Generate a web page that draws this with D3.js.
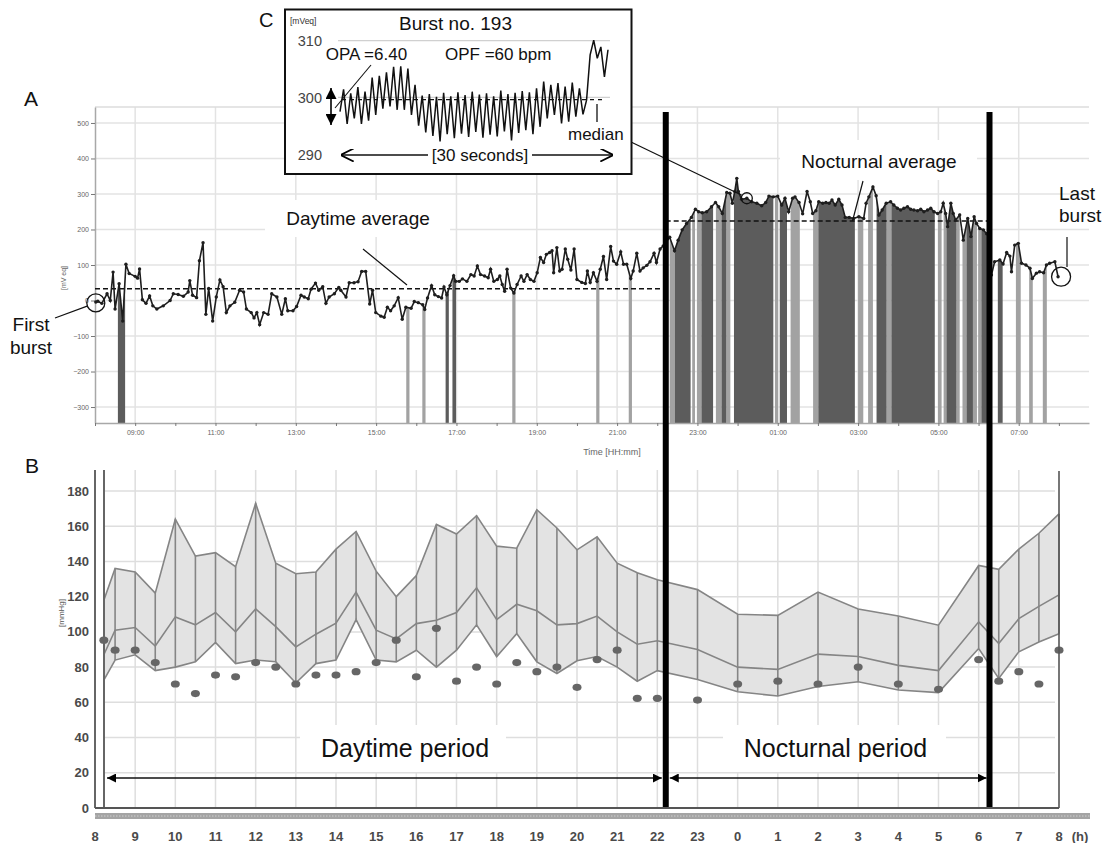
<!DOCTYPE html>
<html>
<head>
<meta charset="utf-8">
<script src="https://cdn.jsdelivr.net/npm/d3@7"></script>
<style>
  body { margin: 0; background: #fff; }
  svg { display: block; font-family: 'Liberation Sans', Arial, sans-serif; }
</style>
</head>
<body>
<div id="chart"></div>
<script>

// ---- PANEL A : burst averages over 24h (hour of recording, mV eq) ----
const burstHours = [
  8.02, 8.07, 8.17, 8.30, 8.38, 8.45, 8.50, 8.60, 8.69, 8.77, 8.85, 9.00, 9.06, 9.11, 9.18, 9.27, 9.36, 9.44, 9.54, 9.70,
  9.87, 9.95, 10.07, 10.20, 10.32, 10.36, 10.43, 10.53, 10.60, 10.69, 10.76, 10.83, 10.93, 11.02, 11.11, 11.19, 11.27, 11.36, 11.48, 11.60,
  11.70, 11.77, 11.89, 11.96, 12.03, 12.10, 12.20, 12.31, 12.40, 12.53, 12.65, 12.74, 12.80, 12.93, 13.02, 13.13, 13.21, 13.31, 13.38, 13.49,
  13.57, 13.67, 13.75, 13.83, 13.96, 14.07, 14.12, 14.25, 14.33, 14.45, 14.55, 14.64, 14.74, 14.84, 14.91, 14.99, 15.12, 15.20, 15.28, 15.36,
  15.45, 15.55, 15.65, 15.74, 15.87, 15.95, 16.05, 16.16, 16.21, 16.28, 16.38, 16.46, 16.55, 16.63, 16.69, 16.76, 16.84, 16.93, 16.98, 17.07,
  17.15, 17.26, 17.36, 17.44, 17.52, 17.60, 17.70, 17.79, 17.85, 17.93, 18.02, 18.08, 18.14, 18.20, 18.26, 18.35, 18.43, 18.51, 18.61, 18.68,
  18.76, 18.84, 18.93, 19.01, 19.09, 19.17, 19.24, 19.32, 19.38, 19.42, 19.50, 19.57, 19.63, 19.71, 19.77, 19.85, 19.93, 20.00, 20.12, 20.21,
  20.26, 20.33, 20.41, 20.50, 20.58, 20.66, 20.74, 20.84, 20.91, 20.99, 21.09, 21.16, 21.24, 21.34, 21.40, 21.49, 21.57, 21.65, 21.74, 21.82,
  21.92, 21.98, 22.07, 22.15, 22.31, 22.43, 22.52, 22.62, 22.73, 22.85, 22.95, 23.03, 23.12, 23.23, 23.35, 23.45, 23.53, 23.62, 23.73, 23.81,
  23.87, 23.93, 23.98, 24.02, 24.10, 24.23, 24.35, 24.48, 24.60, 24.70, 24.78, 24.89, 25.00, 25.10, 25.18, 25.27, 25.37, 25.43, 25.53, 25.62,
  25.73, 25.81, 25.87, 25.95, 26.02, 26.12, 26.20, 26.28, 26.35, 26.43, 26.52, 26.60, 26.68, 26.78, 26.89, 27.02, 27.14, 27.20, 27.27, 27.37,
  27.45, 27.52, 27.60, 27.70, 27.81, 27.89, 27.98, 28.06, 28.14, 28.23, 28.31, 28.39, 28.48, 28.56, 28.64, 28.73, 28.81, 28.89, 28.98, 29.06,
  29.12, 29.18, 29.23, 29.31, 29.37, 29.43, 29.53, 29.62, 29.73, 29.81, 29.89, 29.95, 30.03, 30.12, 30.20, 30.27, 30.32, 30.40, 30.53, 30.61,
  30.70, 30.78, 30.82, 30.90, 30.99, 31.07, 31.18, 31.28, 31.34, 31.44, 31.52, 31.62, 31.69, 31.77, 31.90, 31.98
]
const burstValues = [
  -4, -2, -8, 19, 0, 80, -24, 47, -58, 102, 76, 68, 63, 89, 2, -8, 13, -15, -24, -15,
  0, 19, 17, 12, 24, 56, 15, 8, 112, 163, -39, 34, -58, 10, 58, 39, -34, -15, -5, 29,
  24, -24, -34, -49, -34, -68, -34, -39, 19, 10, -39, 5, -29, -29, -17, 15, 10, 5, 32, 49,
  29, 39, -8, 10, 19, 37, 29, 10, 50, 50, 53, 82, 82, -10, 29, -34, -44, -47, -19, -29,
  -15, 8, -53, -19, -22, -3, -6, -12, -25, 7, 42, 16, 11, 7, 38, 16, 42, 70, 54, 54,
  61, 54, 73, 69, 97, 73, 69, 64, 88, 54, 59, 69, 45, 26, 88, 35, 21, 45, 69, 54,
  73, 59, 54, 78, 121, 107, 130, 135, 140, 78, 149, 83, 88, 145, 116, 86, 145, 59, 51, 48,
  83, 51, 78, 54, 88, 124, 59, 152, 111, 102, 137, 102, 102, 62, 83, 133, 83, 92, 99, 109,
  133, 107, 145, 154, 178, 140, 170, 199, 217, 234, 257, 250, 247, 250, 264, 276, 264, 245, 304, 302,
  274, 307, 344, 307, 285, 288, 278, 274, 267, 276, 294, 292, 294, 269, 288, 250, 288, 292, 276, 244,
  307, 278, 245, 253, 278, 274, 276, 274, 283, 269, 285, 269, 234, 234, 231, 236, 231, 274, 292, 320,
  295, 241, 255, 274, 278, 269, 260, 255, 260, 264, 257, 255, 253, 257, 250, 255, 260, 250, 245, 250,
  274, 245, 208, 274, 245, 227, 241, 170, 231, 180, 236, 217, 203, 199, 188, 185, 72, 109, 114, 103,
  135, 125, 81, 156, 161, 105, 100, 91, 62, 77, 81, 78, 100, 105, 109, 67
]
// shaded bars under the curve, [start hour, end hour]
const darkBands = [
  [8.57, 8.75], [16.73, 16.81], [16.90, 16.99], [22.44, 22.83], [23.10, 23.39], [23.60, 23.72], [23.91, 24.89],
  [25.05, 25.23], [26.01, 26.92], [27.46, 27.71], [27.83, 28.91], [29.20, 29.45], [29.70, 29.86], [30.07, 30.23], [30.48, 30.60]
]
const lightBands = [
  [15.75, 15.83], [16.15, 16.23], [18.39, 18.47], [20.48, 20.56], [21.29, 21.37], [22.31, 22.44], [22.87, 22.94],
  [22.99, 23.10], [23.46, 23.60], [23.72, 23.82], [24.93, 25.01], [25.32, 25.55], [25.88, 26.01], [27.00, 27.13],
  [27.25, 27.37], [27.71, 27.83], [28.99, 29.08], [29.13, 29.20], [29.45, 29.53], [29.60, 29.70], [29.86, 29.96],
  [29.99, 30.07], [30.93, 31.05], [31.26, 31.35], [31.60, 31.70]
]
const daytimeAverage = 33
const nocturnalAverage = 224
const periodStart = 22.21
const periodEnd = 30.27
const highlightHour = 24.23 // burst no. 193
const yTicksA = [-300, -200, -100, 0, 100, 200, 300, 400, 500]
const xLabelHoursA = [9, 11, 13, 15, 17, 19, 21, 23, 25, 27, 29, 31]

// ---- PANEL C : one burst (30 s) ----
const waveC = [
  297.5, 301.4, 295.3, 300.7, 296.3, 301.8, 295.3, 301.0, 295.9,
  303.5, 296.9, 303.8, 298.0, 304.4, 298.4, 305.4, 297.8, 305.5, 297.8, 305.1, 296.9, 302.2, 295.0,
  300.3, 293.8, 300.6, 293.2, 300.1, 292.2, 300.8, 293.5, 300.2, 292.8, 300.9, 293.6, 300.4, 293.0, 301.0, 293.9, 300.5,
  292.9, 300.7, 293.4, 300.2, 293.1, 301.2, 294.0, 300.6, 292.4, 300.8, 293.7, 301.1, 294.2, 300.9, 293.5, 301.6, 294.8,
  302.8, 296.3, 302.2, 296.9, 302.5, 295.4, 301.9, 295.7, 302.6, 296.6, 301.6, 297.0,
  299.5, 307.5, 310.1, 306.9, 308.9, 303.6, 308.4
]
const medianC = 299.6
const yTicksC = [290, 300, 310]

// ---- PANEL B : blood pressure (mmHg) ----
const bpHours = [8.22, 8.5, 9, 9.5, 10, 10.5, 11, 11.5, 12, 12.5, 13, 13.5, 14, 14.5, 15, 15.5, 16, 16.5, 17, 17.5,
  18, 18.5, 19, 19.5, 20, 20.5, 21, 21.5, 22, 23, 24, 25, 26, 27, 28, 29, 30, 30.5, 31, 31.5, 32]
const bpUpper = [118, 136, 134, 122, 164, 143, 145, 137, 173, 139, 133, 134, 147, 157, 134.5, 120, 132, 161, 155.6, 166,
  148.7, 147.5, 169.4, 159, 146.6, 154, 139, 133.6, 129.6, 124, 110, 109.4, 122.6, 113, 109, 103.8, 137.7, 135.5, 147, 156, 167]
const bpMedian = [87, 101, 102.5, 92, 108.5, 104, 111, 100, 113, 103, 91.5, 98.7, 105, 122.6, 101, 96, 104.7, 106.6, 111, 125,
  107, 115.7, 112, 104, 104.7, 109, 100, 93, 95, 90, 80, 78.7, 87.4, 86, 81, 78, 105.7, 93.4, 107.5, 114.5, 121]
const bpLower = [72.6, 84, 87, 78, 80, 83, 94, 82, 84, 83, 71, 82, 84, 107, 84, 83, 89.6, 80, 89.6, 104,
  86, 99, 83, 76.4, 83.6, 86, 80, 72, 78, 73, 66, 63.6, 69, 71.7, 67, 65.5, 90.6, 73.6, 88.7, 94.3, 99]
const bpReading = [95.3, 89.6, 89.6, 82.6, 70.4, 65, 75.5, 74.5, 82.6, 80, 70.4, 75.5, 75.5, 77.4, 82.6, 95.3, 74.5, 102, 72, 80,
  70.4, 82.6, 77.4, 80, 68.5, 84.3, 89.6, 62.3, 62.3, 61.3, 70.4, 72, 70.4, 80, 70.4, 67.4, 84.3, 72, 77.4, 70.4, 89.6]
const yTicksB = [0, 20, 40, 60, 80, 100, 120, 140, 160, 180]
const xTickHoursB = d3.range(8, 33)


const xA = d3.scaleLinear().domain([8, 32.75]).range([95, 1089])
const yA = d3.scaleLinear().domain([-345, 545]).range([423, 107])
const xB = d3.scaleLinear().domain([8, 32]).range([95, 1059])
const yB = d3.scaleLinear().domain([0, 180]).range([808, 491])
const xC = d3.scaleLinear().domain([0, waveC.length - 1]).range([340, 608])
const yC = d3.scaleLinear().domain([290, 310]).range([154, 40.7])

const hourLabel = h => String(h % 24).padStart(2, '0') + ':00'

const svg = d3.select('#chart').append('svg')
  .attr('width', 1109)
  .attr('height', 843)
svg.append('rect').attr('width', 1109).attr('height', 843).attr('fill', '#fff')

const defs = svg.append('defs')

function addMarker(id, size, open) {
  defs.append('marker')
    .attr('id', id)
    .attr('viewBox', '0 0 10 10')
    .attr('refX', open ? 9 : 10)
    .attr('refY', 5)
    .attr('markerWidth', size)
    .attr('markerHeight', size)
    .attr('markerUnits', 'userSpaceOnUse')
    .attr('orient', 'auto-start-reverse')
    .append('path')
    .attr('d', open ? 'M0,0L10,5L0,10' : 'M0,0L10,5L0,10Z')
    .attr('fill', open ? 'none' : '#000')
    .attr('stroke', open ? '#000' : 'none')
    .attr('stroke-width', 1.4)
}
addMarker('tri', 9, false)
addMarker('triBig', 11, false)
addMarker('chev', 13, true)

function label(g, x, y, txt, size, anchor) {
  return g.append('text')
    .attr('x', x)
    .attr('y', y)
    .attr('font-size', size)
    .attr('text-anchor', anchor || 'start')
    .attr('fill', '#111')
    .text(txt)
}

function drawPanelA(g) {
  let pts = burstHours.map((h, i) => [h, burstValues[i]])

  // grid
  g.append('g').selectAll('line.h')
    .data(yTicksA)
    .enter().append('line')
    .attr('x1', xA(8)).attr('x2', xA(32.75))
    .attr('y1', d => yA(d)).attr('y2', d => yA(d))
    .attr('stroke', '#e3e3e3').attr('stroke-width', 1.5)
  g.append('g').selectAll('line.v')
    .data(xLabelHoursA)
    .enter().append('line')
    .attr('x1', d => xA(d)).attr('x2', d => xA(d))
    .attr('y1', yA(545)).attr('y2', yA(-345))
    .attr('stroke', '#e3e3e3').attr('stroke-width', 1.5)
  g.append('line')
    .attr('x1', xA(8)).attr('x2', xA(32.75))
    .attr('y1', yA(545)).attr('y2', yA(545))
    .attr('stroke', '#dcdcdc').attr('stroke-width', 1.5)

  // white label backgrounds
  g.append('rect').attr('x', 265).attr('y', 200).attr('width', 185).attr('height', 37).attr('fill', '#fff')
  g.append('rect').attr('x', 780).attr('y', 140).attr('width', 197).attr('height', 40).attr('fill', '#fff')

  // shaded bars, clipped under the curve
  let area = d3.area()
    .x(d => xA(d[0]))
    .y0(yA(-345))
    .y1(d => yA(d[1]))
  defs.append('clipPath').attr('id', 'underLine')
    .append('path').datum(pts).attr('d', area)

  let bands = g.append('g').attr('clip-path', 'url(#underLine)')
  bands.selectAll('rect.light')
    .data(lightBands)
    .enter().append('rect')
    .attr('x', d => xA(d[0]))
    .attr('width', d => xA(d[1]) - xA(d[0]))
    .attr('y', yA(545)).attr('height', yA(-345) - yA(545))
    .attr('fill', '#a2a2a2')
  bands.selectAll('rect.dark')
    .data(darkBands)
    .enter().append('rect')
    .attr('x', d => xA(d[0]))
    .attr('width', d => xA(d[1]) - xA(d[0]))
    .attr('y', yA(545)).attr('height', yA(-345) - yA(545))
    .attr('fill', '#5c5c5c')

  // axes
  let yAxis = g.append('g')
    .attr('transform', 'translate(' + xA(8) + ',0)')
    .attr('color', '#777')
    .call(d3.axisLeft(yA).tickValues(yTicksA).tickSize(4).tickSizeOuter(0).tickPadding(2))
  yAxis.select('.domain').attr('stroke', '#a8a8a8').attr('stroke-width', 1.5)
  yAxis.selectAll('text').attr('font-size', 7).attr('fill', '#666').attr('font-family', null)

  let xAxis = g.append('g')
    .attr('transform', 'translate(0,' + yA(-345) + ')')
    .attr('color', '#777')
    .call(d3.axisBottom(xA).tickValues(d3.range(8, 33)).tickSize(3).tickSizeOuter(0).tickPadding(4)
      .tickFormat(h => xLabelHoursA.includes(h) ? hourLabel(h) : ''))
  xAxis.select('.domain').attr('stroke', '#a8a8a8').attr('stroke-width', 1.5)
  xAxis.selectAll('text').attr('font-size', 7).attr('fill', '#666').attr('font-family', null)

  g.append('text')
    .attr('transform', 'translate(66,278) rotate(-90)')
    .attr('text-anchor', 'middle')
    .attr('font-size', 7).attr('fill', '#666')
    .text('[mV eq]')
  g.append('text')
    .attr('x', 612).attr('y', 455)
    .attr('text-anchor', 'middle')
    .attr('font-size', 9).attr('fill', '#666')
    .text('Time [HH:mm]')

  // period averages
  g.append('line')
    .attr('x1', xA(8)).attr('x2', xA(periodStart))
    .attr('y1', yA(daytimeAverage)).attr('y2', yA(daytimeAverage))
    .attr('stroke', '#111').attr('stroke-width', 1.4).attr('stroke-dasharray', '5,3')
  g.append('line')
    .attr('x1', xA(periodStart)).attr('x2', xA(periodEnd))
    .attr('y1', yA(nocturnalAverage)).attr('y2', yA(nocturnalAverage))
    .attr('stroke', '#111').attr('stroke-width', 1.4).attr('stroke-dasharray', '5,3')

  // burst line + points
  g.append('path')
    .datum(pts)
    .attr('d', d3.line().x(d => xA(d[0])).y(d => yA(d[1])))
    .attr('fill', 'none')
    .attr('stroke', '#1e1e1e')
    .attr('stroke-width', 1.6)
  g.append('g').selectAll('circle')
    .data(pts)
    .enter().append('circle')
    .attr('cx', d => xA(d[0]))
    .attr('cy', d => yA(d[1]))
    .attr('r', 1.7)
    .attr('fill', '#1e1e1e')

  // annotations
  let first = pts[0]
  let last = pts[pts.length - 1]
  let hl = pts.find(d => d[0] === highlightHour)

  g.append('circle').attr('cx', xA(first[0])).attr('cy', yA(first[1]) + 1).attr('r', 9)
    .attr('fill', 'none').attr('stroke', '#111').attr('stroke-width', 1.3)
  g.append('line').attr('x1', 55).attr('y1', 318).attr('x2', xA(first[0]) - 8).attr('y2', yA(first[1]) + 4)
    .attr('stroke', '#111').attr('stroke-width', 1.2)
  label(g, 31, 331, 'First', 19, 'middle')
  label(g, 31, 354, 'burst', 19, 'middle')

  g.append('circle').attr('cx', xA(last[0]) + 3).attr('cy', yA(last[1])).attr('r', 9.5)
    .attr('fill', 'none').attr('stroke', '#111').attr('stroke-width', 1.3)
  g.append('line').attr('x1', 1067).attr('y1', 237).attr('x2', 1067).attr('y2', 267)
    .attr('stroke', '#111').attr('stroke-width', 1.2)
  label(g, 1059, 200, 'Last', 19)
  label(g, 1059, 222, 'burst', 19)

  g.append('circle').attr('cx', xA(hl[0])).attr('cy', yA(hl[1])).attr('r', 5.5)
    .attr('fill', 'none').attr('stroke', '#111').attr('stroke-width', 1.3)
  g.append('line').attr('x1', 631).attr('y1', 142).attr('x2', xA(hl[0]) - 5).attr('y2', yA(hl[1]) - 3)
    .attr('stroke', '#111').attr('stroke-width', 1.2)

  label(g, 358, 225, 'Daytime average', 19, 'middle')
  g.append('line').attr('x1', 363).attr('y1', 249).attr('x2', 407).attr('y2', 285)
    .attr('stroke', '#111').attr('stroke-width', 1.2)
  label(g, 879, 168, 'Nocturnal average', 19, 'middle')
  g.append('line').attr('x1', 863).attr('y1', 181).attr('x2', 852.5).attr('y2', 221)
    .attr('stroke', '#111').attr('stroke-width', 1.2)

  label(g, 24, 106, 'A', 21)
}

function drawInset(g) {
  g.append('rect')
    .attr('x', 285).attr('y', 9.5).attr('width', 346.5).attr('height', 164.5)
    .attr('fill', '#fff').attr('stroke', '#111').attr('stroke-width', 2)

  g.append('g').selectAll('line')
    .data([300, 310])
    .enter().append('line')
    .attr('x1', 338).attr('x2', 610)
    .attr('y1', d => yC(d)).attr('y2', d => yC(d))
    .attr('stroke', '#d0d0d0').attr('stroke-width', 1.2)

  g.append('g').selectAll('text')
    .data(yTicksC)
    .enter().append('text')
    .attr('x', 322).attr('y', d => yC(d) + 5.5)
    .attr('text-anchor', 'end')
    .attr('font-size', 14.5).attr('fill', '#444')
    .text(d => d)

  g.append('text').attr('x', 290).attr('y', 24).attr('font-size', 8.5).attr('fill', '#333').text('[mVeq]')
  label(g, 455.5, 30, 'Burst no. 193', 19, 'middle')
  label(g, 325.7, 60, 'OPA =6.40', 17)
  label(g, 445, 60, 'OPF =60 bpm', 17)

  // median dashes
  g.append('line')
    .attr('x1', 342).attr('x2', 602)
    .attr('y1', yC(medianC)).attr('y2', yC(medianC))
    .attr('stroke', '#111').attr('stroke-width', 1.2).attr('stroke-dasharray', '4,4')

  g.append('path')
    .datum(waveC)
    .attr('d', d3.line().x((d, i) => xC(i)).y(d => yC(d)))
    .attr('fill', 'none').attr('stroke', '#111').attr('stroke-width', 1.5)

  // OPA arrow + pointer
  g.append('line').attr('x1', 331).attr('x2', 331).attr('y1', 88).attr('y2', 125)
    .attr('stroke', '#000').attr('stroke-width', 1.6)
    .attr('marker-start', 'url(#triBig)').attr('marker-end', 'url(#triBig)')
  g.append('line').attr('x1', 371).attr('y1', 65).attr('x2', 335).attr('y2', 108)
    .attr('stroke', '#111').attr('stroke-width', 1.1)

  // median marker
  g.append('line').attr('x1', 597).attr('x2', 597).attr('y1', 104).attr('y2', 122)
    .attr('stroke', '#111').attr('stroke-width', 1.3)
  label(g, 568, 140, 'median', 17)

  // 30 seconds arrow
  g.append('line').attr('x1', 428).attr('x2', 342).attr('y1', 155).attr('y2', 155)
    .attr('stroke', '#111').attr('stroke-width', 1.3).attr('marker-end', 'url(#chev)')
  g.append('line').attr('x1', 532).attr('x2', 612).attr('y1', 155).attr('y2', 155)
    .attr('stroke', '#111').attr('stroke-width', 1.3).attr('marker-end', 'url(#chev)')
  label(g, 480, 161, '[30 seconds]', 17, 'middle')

  label(g, 259, 27, 'C', 20)
}

function drawPanelB(g) {
  // grid
  g.append('g').selectAll('line')
    .data(xTickHoursB.filter(h => h > 8 && h < 32))
    .enter().append('line')
    .attr('x1', d => xB(d)).attr('x2', d => xB(d))
    .attr('y1', 470).attr('y2', yB(0))
    .attr('stroke', '#dedede').attr('stroke-width', 1.5)
  g.append('g').selectAll('line')
    .data(yTicksB.filter(v => v > 0))
    .enter().append('line')
    .attr('x1', 104).attr('x2', 1055)
    .attr('y1', d => yB(d)).attr('y2', d => yB(d))
    .attr('stroke', '#dedede').attr('stroke-width', 1.5)

  g.append('rect').attr('x', 300).attr('y', 725).attr('width', 206).attr('height', 47).attr('fill', '#fff')
  g.append('rect').attr('x', 723).attr('y', 725).attr('width', 223).attr('height', 47).attr('fill', '#fff')

  let pts = bpHours.map((h, i) => ({ h: h, up: bpUpper[i], md: bpMedian[i], lo: bpLower[i], rd: bpReading[i] }))

  g.append('path')
    .datum(pts)
    .attr('d', d3.area().x(d => xB(d.h)).y0(d => yB(d.lo)).y1(d => yB(d.up)))
    .attr('fill', '#e3e3e3')

  g.append('g').selectAll('line')
    .data(pts)
    .enter().append('line')
    .attr('x1', d => xB(d.h)).attr('x2', d => xB(d.h))
    .attr('y1', d => yB(d.lo)).attr('y2', d => yB(d.up))
    .attr('stroke', '#858585').attr('stroke-width', 1.6)

  ;['up', 'md', 'lo'].forEach(k => {
    g.append('path')
      .datum(pts)
      .attr('d', d3.line().x(d => xB(d.h)).y(d => yB(d[k])))
      .attr('fill', 'none')
      .attr('stroke', '#858585')
      .attr('stroke-width', 1.6)
  })

  g.append('g').selectAll('ellipse')
    .data(pts)
    .enter().append('ellipse')
    .attr('cx', d => xB(d.h))
    .attr('cy', d => yB(d.rd))
    .attr('rx', 4.5).attr('ry', 3.6)
    .attr('fill', '#666')

  // axes
  g.append('line').attr('x1', 95).attr('x2', 95).attr('y1', 470).attr('y2', yB(0))
    .attr('stroke', '#666').attr('stroke-width', 2)
  g.append('line').attr('x1', 104).attr('x2', 104).attr('y1', 470).attr('y2', yB(0))
    .attr('stroke', '#666').attr('stroke-width', 2)
  g.append('line').attr('x1', xB(32)).attr('x2', xB(32)).attr('y1', 471).attr('y2', yB(0))
    .attr('stroke', '#555').attr('stroke-width', 1.6)
  g.append('line').attr('x1', 95).attr('x2', xB(32)).attr('y1', yB(0)).attr('y2', yB(0))
    .attr('stroke', '#555').attr('stroke-width', 2)
  g.append('rect').attr('x', 95).attr('y', 813).attr('width', 995).attr('height', 6).attr('fill', '#a4a4a4')
  g.append('line').attr('x1', 95).attr('x2', 1090).attr('y1', 816).attr('y2', 816)
    .attr('stroke', '#cfcfcf').attr('stroke-width', 1).attr('stroke-dasharray', '1.5,1.5')

  g.append('g').selectAll('text')
    .data(yTicksB)
    .enter().append('text')
    .attr('x', 89).attr('y', d => yB(d) + 4.5)
    .attr('text-anchor', 'end')
    .attr('font-size', 13).attr('font-weight', 'bold').attr('fill', '#4a4a4a')
    .text(d => d)
  g.append('g').selectAll('text')
    .data(xTickHoursB)
    .enter().append('text')
    .attr('x', d => xB(d)).attr('y', 841)
    .attr('text-anchor', 'middle')
    .attr('font-size', 13).attr('font-weight', 'bold').attr('fill', '#4a4a4a')
    .text(d => d % 24)
  g.append('text').attr('x', 1080).attr('y', 841).attr('text-anchor', 'middle')
    .attr('font-size', 13).attr('font-weight', 'bold').attr('fill', '#4a4a4a').text('(h)')
  g.append('text')
    .attr('transform', 'translate(64,613) rotate(-90)')
    .attr('text-anchor', 'middle')
    .attr('font-size', 8).attr('fill', '#555')
    .text('[mmHg]')

  // period arrows
  g.append('line').attr('x1', xB(8.3)).attr('x2', xB(periodStart) - 4).attr('y1', 778).attr('y2', 778)
    .attr('stroke', '#111').attr('stroke-width', 1.5)
    .attr('marker-start', 'url(#tri)').attr('marker-end', 'url(#tri)')
  g.append('line').attr('x1', xB(periodStart) + 4).attr('x2', xB(periodEnd) - 3).attr('y1', 778).attr('y2', 778)
    .attr('stroke', '#111').attr('stroke-width', 1.5)
    .attr('marker-start', 'url(#tri)').attr('marker-end', 'url(#tri)')
  label(g, 405, 757, 'Daytime period', 25, 'middle')
  label(g, 835.5, 757, 'Nocturnal period', 25, 'middle')

  label(g, 25, 473, 'B', 21)
}

let gA = svg.append('g')
let gB = svg.append('g')
let gC = svg.append('g')
drawPanelA(gA)
drawPanelB(gB)
drawInset(gC)

// day / night boundaries across both panels
svg.append('g').selectAll('line')
  .data([periodStart, periodEnd])
  .enter().append('line')
  .attr('x1', d => xB(d)).attr('x2', d => xB(d))
  .attr('y1', 112).attr('y2', 807)
  .attr('stroke', '#000').attr('stroke-width', 6)

</script>
</body>
</html>
